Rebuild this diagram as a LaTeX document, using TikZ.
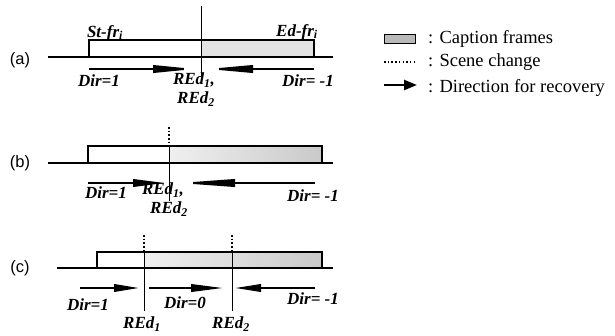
\documentclass[tikz,border=0pt]{standalone}
\usepackage{fontspec}
\setmainfont{Liberation Serif}
\newfontfamily\labsans{Liberation Sans}
\usetikzlibrary{arrows.meta}
\begin{document}
\begin{tikzpicture}[x=1pt,y=-1pt,
  baseln/.style={line width=2.6pt},
  framebox/.style={draw,line width=1.2pt},
  capfill/.style={fill=gray!22},
  capgrad/.style={left color=gray!12,right color=gray!42},
  vln/.style={line width=0.9pt},
  scenedot/.style={line width=1.5pt,dash pattern=on 1.5pt off 2.2pt},
  dirarrow/.style={line width=2pt,-{Triangle[length=#1,width=7.5pt]}},
  lbl/.style={font=\fontsize{17}{17}\selectfont\bfseries\itshape,inner sep=0pt},
  panel/.style={font=\labsans\fontsize{16.5}{16.5}\selectfont,inner sep=0pt},
  legtxt/.style={font=\fontsize{18.5}{18.5}\selectfont,inner sep=0pt,anchor=west}]
\useasboundingbox (0,0) rectangle (615,335);

% ---------- (a) ----------
\node[panel] (pa) at (20,60) {(a)};
\path[capfill] (201,40) rectangle (314,57);
\draw[framebox] (89,57) |- (314,40) -- (314,57);
\coordinate (aTop) at (201,6); \coordinate (aBot) at (201,76);
\draw[vln] (aTop) -- (aBot);
\coordinate (aL) at (48,57); \coordinate (aR) at (333,57);
\draw[baseln] (aL) -- (aR);
\coordinate (aA1s) at (89,69); \coordinate (aA1e) at (195,69);
\coordinate (aA2s) at (314,69); \coordinate (aA2e) at (207,69);
\draw[dirarrow=42pt] (aA1s) -- (aA1e);
\draw[dirarrow=46pt] (aA2s) -- (aA2e);
\node[lbl] (aSt) at (105,33) {St-fr\textsubscript{\itshape i}};
\node[lbl] (aEd) at (297,32) {Ed-fr\textsubscript{\itshape i}};
\node[lbl] (aD1) at (99,81) {Dir=1};
\node[lbl] (aR1) at (194,80) {REd\textsubscript{\itshape 1},};
\node[lbl] (aR2) at (196,99) {REd\textsubscript{\itshape 2}};
\node[lbl] (aD2) at (308,81) {Dir= -1};

% ---------- legend ----------
\path[fill=gray!55] (384,34) rectangle (415,43);
\draw[line width=0.8pt] (384,34) rectangle (415,43);
\node[legtxt] (lg1) at (428,39) {: Caption frames};
\coordinate (ld1) at (384,62); \coordinate (ld2) at (416,62);
\draw[line width=1.5pt,dash pattern=on 1.5pt off 2.2pt] (ld1) -- (ld2);
\node[legtxt] (lg2) at (428,62) {: Scene change};
\coordinate (la1) at (384,85); \coordinate (la2) at (417,85);
\draw[line width=2.4pt,-{Triangle[length=13pt,width=10pt]}] (la1) -- (la2);
\node[legtxt] (lg3) at (428,88) {: Direction for recovery};

% ---------- (b) ----------
\node[panel] (pb) at (20,163) {(b)};
\path[capgrad] (169,146) rectangle (322,163);
\draw[framebox] (88,163) |- (322,146) -- (322,163);
\coordinate (bS0) at (169,127); \coordinate (bS1) at (169,146); \coordinate (bS2) at (169,201);
\draw[scenedot] (bS0) -- (bS1);
\draw[vln] (bS1) -- (bS2);
\coordinate (bL) at (48,163); \coordinate (bR) at (333,163);
\draw[baseln] (bL) -- (bR);
\coordinate (bA1s) at (88,183); \coordinate (bA1e) at (165,183);
\coordinate (bA2s) at (315,183); \coordinate (bA2e) at (178,183);
\draw[dirarrow=32pt] (bA1s) -- (bA1e);
\draw[dirarrow=57pt] (bA2s) -- (bA2e);
\node[lbl] (bD1) at (106,193) {Dir=1};
\node[lbl] (bR1) at (163,190) {REd\textsubscript{\itshape 1},};
\node[lbl] (bR2) at (169,209) {REd\textsubscript{\itshape 2}};
\node[lbl] (bD2) at (313,196) {Dir= -1};

% ---------- (c) ----------
\node[panel] (pc) at (20,268) {(c)};
\path[capgrad] (144,252) rectangle (322,268);
\draw[framebox] (97,268) |- (322,252) -- (322,268);
\coordinate (cS0) at (144,235); \coordinate (cS1) at (144,252); \coordinate (cS2) at (144,311);
\coordinate (cT0) at (232,235); \coordinate (cT1) at (232,252); \coordinate (cT2) at (232,311);
\draw[scenedot] (cS0) -- (cS1);
\draw[vln] (cS1) -- (cS2);
\draw[scenedot] (cT0) -- (cT1);
\draw[vln] (cT1) -- (cT2);
\coordinate (cL) at (57,268); \coordinate (cR) at (333,268);
\draw[baseln] (cL) -- (cR);
\coordinate (cA1s) at (80,288); \coordinate (cA1e) at (139,288);
\coordinate (cA2s) at (149,288); \coordinate (cA2e) at (223,288);
\coordinate (cA3s) at (315,288); \coordinate (cA3e) at (235,288);
\draw[dirarrow=25pt] (cA1s) -- (cA1e);
\draw[dirarrow=32pt] (cA2s) -- (cA2e);
\draw[dirarrow=26pt] (cA3s) -- (cA3e);
\node[lbl] (cD1) at (88,305) {Dir=1};
\node[lbl] (cD0) at (185,303) {Dir=0};
\node[lbl] (cD2) at (313,299) {Dir= -1};
\node[lbl] (cR1) at (142,324) {REd\textsubscript{\itshape 1}};
\node[lbl] (cR2) at (231,324) {REd\textsubscript{\itshape 2}};
\end{tikzpicture}
\end{document}
